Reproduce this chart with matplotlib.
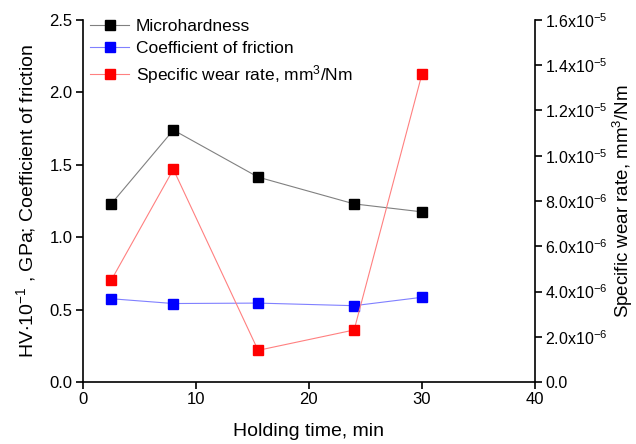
import matplotlib
matplotlib.use("Agg")
import matplotlib.pyplot as plt

plt.rcParams['font.family'] = ['Liberation Sans', 'DejaVu Sans']
plt.rcParams['mathtext.fontset'] = 'custom'
plt.rcParams['mathtext.rm'] = 'Liberation Sans'
plt.rcParams['mathtext.it'] = 'Liberation Sans'
plt.rcParams['mathtext.default'] = 'regular'

holding_time = [2.5, 8, 15.5, 24, 30]
microhardness = [1.23, 1.74, 1.415, 1.23, 1.175]
friction = [0.575, 0.542, 0.545, 0.527, 0.585]
wear_rate = [4.5e-6, 9.4e-6, 1.4e-6, 2.3e-6, 1.36e-5]

right_ticks = [0, 2e-6, 4e-6, 6e-6, 8e-6, 1e-5, 1.2e-5, 1.4e-5, 1.6e-5]
right_labels = ['0.0', r'2.0x10$^{-6}$', r'4.0x10$^{-6}$', r'6.0x10$^{-6}$', r'8.0x10$^{-6}$',
                r'1.0x10$^{-5}$', r'1.2x10$^{-5}$', r'1.4x10$^{-5}$', r'1.6x10$^{-5}$']

fig = plt.figure(figsize=(6.36, 4.44), dpi=100)
ax = fig.add_axes([0.1305, 0.1396, 0.7105, 0.8154])
ax2 = ax.twinx()

ms = 7
l1, = ax.plot(holding_time, microhardness, color='#808080', lw=0.8, marker='s', ms=ms,
              mfc='black', mec='black', label='Microhardness')
l2, = ax.plot(holding_time, friction, color='#8080ff', lw=0.8, marker='s', ms=ms,
              mfc='#0000ff', mec='#0000ff', label='Coefficient of friction')
l3, = ax2.plot(holding_time, wear_rate, color='#ff8080', lw=0.8, marker='s', ms=ms,
               mfc='#ff0000', mec='#ff0000', label='Specific wear rate, mm$^3$/Nm')

ax.set_xlim(0, 40)
ax.set_ylim(0, 2.5)
ax2.set_ylim(0, 1.6e-5)
ax.set_xticks([0, 10, 20, 30, 40])
ax.set_yticks([0, 0.5, 1.0, 1.5, 2.0, 2.5])
ax.set_yticklabels(['0.0', '0.5', '1.0', '1.5', '2.0', '2.5'])
ax2.set_yticks(right_ticks)
ax2.set_yticklabels(right_labels)

for a in (ax, ax2):
    a.spines['top'].set_visible(False)
    for s in a.spines.values():
        s.set_linewidth(1.2)
    a.tick_params(direction='out', length=5, width=1.2, labelsize=12, pad=2.5)
ax2.tick_params(labelsize=11.5, pad=2.5)
ax.tick_params(axis='x', pad=2)
ax.spines['right'].set_visible(False)
ax2.spines['left'].set_visible(False)
ax2.spines['bottom'].set_visible(False)

ax.set_xlabel('Holding time, min', fontsize=14, labelpad=12)
ax.set_ylabel(r'HV$\cdot$10$^{-1}$ , GPa; Coefficient of friction', fontsize=14, labelpad=8)
ax2.set_ylabel('Specific wear rate, mm$^3$/Nm', fontsize=13.5, labelpad=2)

ax.legend(handles=[l1, l2, l3], loc='upper left', frameon=False, fontsize=12.5,
          bbox_to_anchor=(-0.018, 1.045), handlelength=2.2, handletextpad=0.4, labelspacing=0.38)

fig.savefig('out.png', dpi=100)
